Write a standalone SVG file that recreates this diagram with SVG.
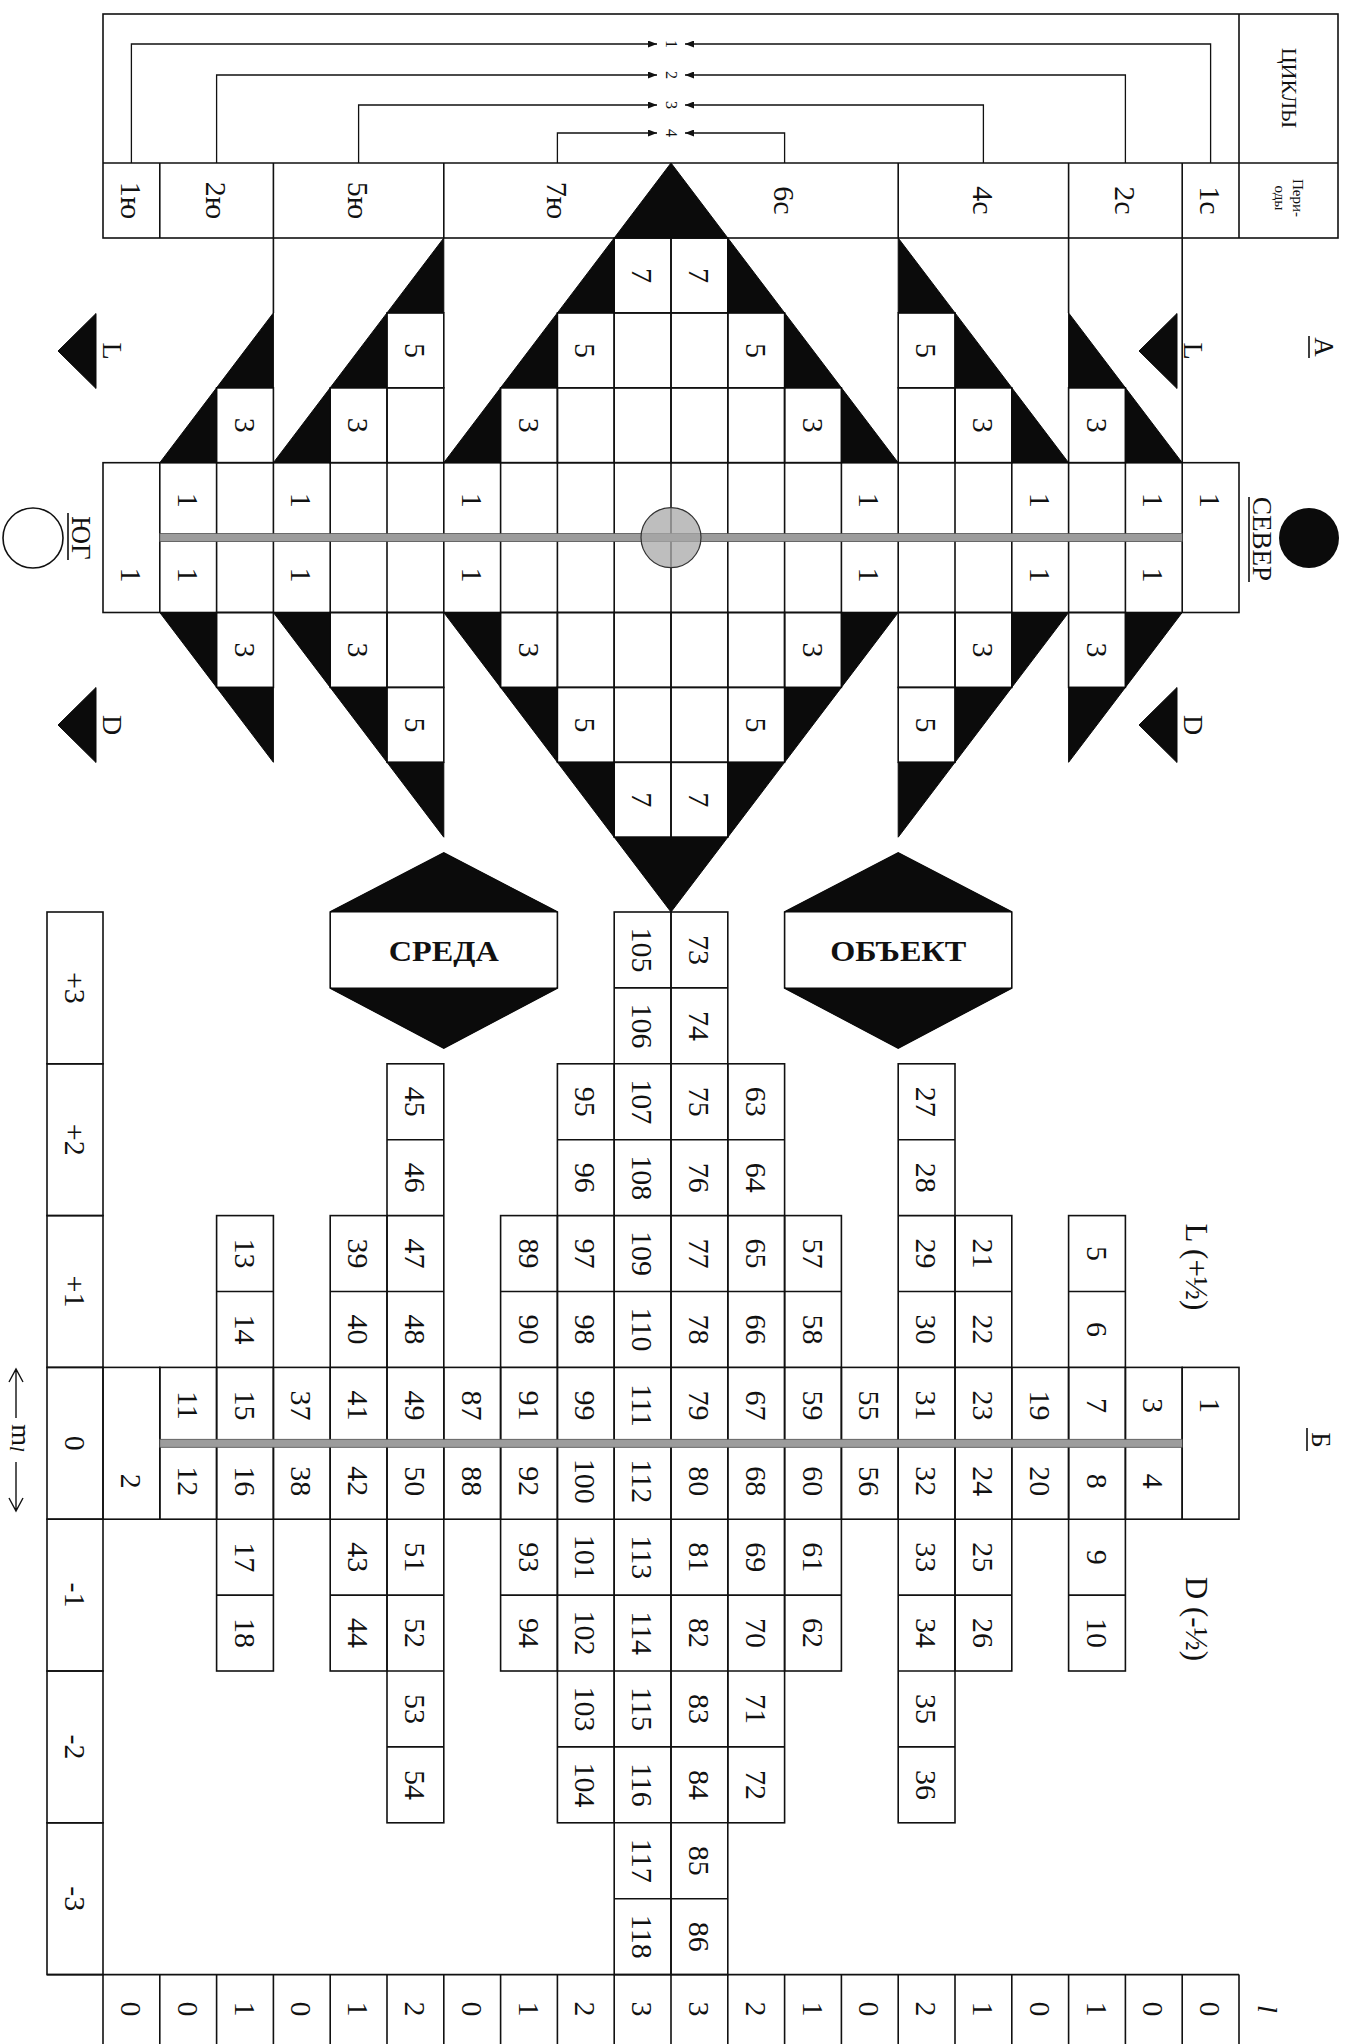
<svg xmlns="http://www.w3.org/2000/svg" xmlns:xlink="http://www.w3.org/1999/xlink" width="1351" height="2044" viewBox="0 0 1351 2044">
<defs>
<style>
.g{fill:none;stroke:#111;stroke-width:1.6}
.b{fill:#0b0b0b;stroke:#0b0b0b;stroke-width:1}
.cy{fill:none;stroke:#111;stroke-width:1.3}
.bar{fill:#9c9c9c;stroke:#505050;stroke-width:0.8}
.t{font-family:"Liberation Serif","Times New Roman",serif;font-size:30px;fill:#111;text-anchor:middle;dominant-baseline:central}
.f15{font-size:15px}
.f16{font-size:16px}
.f20{font-size:20px}
.f22{font-size:22px}
.f27{font-size:27px}
.f28{font-size:28px}
.f31{font-size:31px}
.bd{font-weight:bold}
.it{font-style:italic}
</style>
<marker id="ah" markerWidth="9" markerHeight="7" refX="9" refY="3.5" orient="auto" markerUnits="userSpaceOnUse"><path d="M0,0 L9,3.5 L0,7 z" fill="#111" stroke="none"/></marker>
<rect id="dc" width="56.8" height="74.9" class="g"/>
<g id="l0"><rect x="0" y="1367.4" width="56.8" height="151.8" class="g"/></g>
<g id="l1"><rect x="0" y="1215.6" width="56.8" height="455.4" class="g"/><path class="g" d="M0 1291.5h56.8M0 1367.4h56.8M0 1443.3h56.8M0 1519.2h56.8M0 1595.1h56.8"/></g>
<g id="l2"><rect x="0" y="1063.8" width="56.8" height="759" class="g"/><path class="g" d="M0 1139.7h56.8M0 1215.6h56.8M0 1291.5h56.8M0 1367.4h56.8M0 1443.3h56.8M0 1519.2h56.8M0 1595.1h56.8M0 1671h56.8M0 1746.9h56.8"/></g>
<g id="l3"><rect x="0" y="912" width="56.8" height="1062.6" class="g"/><path class="g" d="M0 987.9h56.8M0 1063.8h56.8M0 1139.7h56.8M0 1215.6h56.8M0 1291.5h56.8M0 1367.4h56.8M0 1443.3h56.8M0 1519.2h56.8M0 1595.1h56.8M0 1671h56.8M0 1746.9h56.8M0 1822.8h56.8M0 1898.7h56.8"/></g>
</defs>
<rect width="1351" height="2044" fill="#fff"/>

<g id="frame-top">
<rect x="103" y="14" width="1235" height="224" class="g"/>
<path class="g" d="M103 163H1338M1239 14V238M159.8 163V238M273.4 163V238M443.8 163V238M898.2 163V238M1068.6 163V238M1182.2 163V238"/>
</g>

<g id="connectors" class="cy">
<path d="M131.4 163V44H657" marker-end="url(#ah)"/>
<path d="M1210.6 163V44H685" marker-end="url(#ah)"/>
<path d="M216.6 163V75H657" marker-end="url(#ah)"/>
<path d="M1125.4 163V75H685" marker-end="url(#ah)"/>
<path d="M358.6 163V105H657" marker-end="url(#ah)"/>
<path d="M983.4 163V105H685" marker-end="url(#ah)"/>
<path d="M557.4 163V133H657" marker-end="url(#ah)"/>
<path d="M784.6 163V133H685" marker-end="url(#ah)"/>
</g>

<g id="diamond">
<use href="#dc" x="216.6" y="387.8"/><use href="#dc" x="330.2" y="387.8"/><use href="#dc" x="387" y="387.8"/>
<use href="#dc" x="500.6" y="387.8"/><use href="#dc" x="557.4" y="387.8"/><use href="#dc" x="614.2" y="387.8"/>
<use href="#dc" x="671" y="387.8"/><use href="#dc" x="727.8" y="387.8"/><use href="#dc" x="784.6" y="387.8"/>
<use href="#dc" x="898.2" y="387.8"/><use href="#dc" x="955" y="387.8"/><use href="#dc" x="1068.6" y="387.8"/>
<use href="#dc" x="387" y="312.9"/><use href="#dc" x="557.4" y="312.9"/><use href="#dc" x="614.2" y="312.9"/>
<use href="#dc" x="671" y="312.9"/><use href="#dc" x="727.8" y="312.9"/><use href="#dc" x="898.2" y="312.9"/>
<use href="#dc" x="614.2" y="238"/><use href="#dc" x="671" y="238"/>
<use href="#dc" x="216.6" y="612.5"/><use href="#dc" x="330.2" y="612.5"/><use href="#dc" x="387" y="612.5"/>
<use href="#dc" x="500.6" y="612.5"/><use href="#dc" x="557.4" y="612.5"/><use href="#dc" x="614.2" y="612.5"/>
<use href="#dc" x="671" y="612.5"/><use href="#dc" x="727.8" y="612.5"/><use href="#dc" x="784.6" y="612.5"/>
<use href="#dc" x="898.2" y="612.5"/><use href="#dc" x="955" y="612.5"/><use href="#dc" x="1068.6" y="612.5"/>
<use href="#dc" x="387" y="687.4"/><use href="#dc" x="557.4" y="687.4"/><use href="#dc" x="614.2" y="687.4"/>
<use href="#dc" x="671" y="687.4"/><use href="#dc" x="727.8" y="687.4"/><use href="#dc" x="898.2" y="687.4"/>
<use href="#dc" x="614.2" y="762.3"/><use href="#dc" x="671" y="762.3"/>
<rect x="103" y="462.7" width="1136" height="149.8" class="g"/>
<path class="g" d="M159.8 462.7V612.5M216.6 462.7V612.5M273.4 462.7V612.5M330.2 462.7V612.5M387 462.7V612.5M443.8 462.7V612.5M500.6 462.7V612.5M557.4 462.7V612.5M614.2 462.7V612.5M671 462.7V612.5M727.8 462.7V612.5M784.6 462.7V612.5M841.4 462.7V612.5M898.2 462.7V612.5M955 462.7V612.5M1011.8 462.7V612.5M1068.6 462.7V612.5M1125.4 462.7V612.5M1182.2 462.7V612.5"/>
<path class="g" d="M273.4 238V312.9M1068.6 238V312.9M1182.2 238V462.7"/>
<path class="b" d="M671 163L727.8 238L614.2 238Z
M159.8 462.7L216.6 462.7L216.6 387.8Z M216.6 387.8L273.4 387.8L273.4 312.9Z
M273.4 462.7L330.2 462.7L330.2 387.8Z M330.2 387.8L387 387.8L387 312.9Z M387 312.9L443.8 312.9L443.8 238Z
M443.8 462.7L500.6 462.7L500.6 387.8Z M500.6 387.8L557.4 387.8L557.4 312.9Z M557.4 312.9L614.2 312.9L614.2 238Z
M841.4 387.8L841.4 462.7L898.2 462.7Z M784.6 312.9L784.6 387.8L841.4 387.8Z M727.8 238L727.8 312.9L784.6 312.9Z
M1011.8 387.8L1011.8 462.7L1068.6 462.7Z M955 312.9L955 387.8L1011.8 387.8Z M898.2 238L898.2 312.9L955 312.9Z
M1125.4 387.8L1125.4 462.7L1182.2 462.7Z M1068.6 312.9L1068.6 387.8L1125.4 387.8Z
M159.8 612.5L216.6 612.5L216.6 687.4Z M216.6 687.4L273.4 687.4L273.4 762.3Z
M273.4 612.5L330.2 612.5L330.2 687.4Z M330.2 687.4L387 687.4L387 762.3Z M387 762.3L443.8 762.3L443.8 837.2Z
M443.8 612.5L500.6 612.5L500.6 687.4Z M500.6 687.4L557.4 687.4L557.4 762.3Z M557.4 762.3L614.2 762.3L614.2 837.2Z
M614.2 837.2L727.8 837.2L671 912Z
M841.4 612.5L898.2 612.5L841.4 687.4Z M784.6 687.4L841.4 687.4L784.6 762.3Z M727.8 762.3L784.6 762.3L727.8 837.2Z
M1011.8 612.5L1068.6 612.5L1011.8 687.4Z M955 687.4L1011.8 687.4L955 762.3Z M898.2 762.3L955 762.3L898.2 837.2Z
M1125.4 612.5L1182.2 612.5L1125.4 687.4Z M1068.6 687.4L1125.4 687.4L1068.6 762.3Z"/>
<rect x="159.8" y="533.6" width="1022.4" height="8" class="bar"/>
<circle cx="671" cy="537.6" r="30" fill="#a8a8a8" fill-opacity="0.75" stroke="#333" stroke-width="1.2"/>
</g>

<g id="markers-LD">
<path class="b" d="M58 351L96 313.5L96 388.5Z M1139 351L1177 313.5L1177 388.5Z M58 725L96 687.5L96 762.5Z M1139 725L1177 687.5L1177 762.5Z"/>
<circle cx="33" cy="538" r="30" fill="none" stroke="#111" stroke-width="1.6"/>
<circle cx="1309" cy="538" r="30" fill="#0b0b0b"/>
<path class="g" d="M68 513V560M1249 497V582M1309 336V358M1307 1428V1451"/>
</g>

<g id="hex-sreda">
<polygon points="330.2,912 443.8,853 557.4,912 557.4,988 443.8,1048 330.2,988" fill="#fff" class="g"/>
<path class="b" d="M330.2 912L443.8 853L557.4 912Z M330.2 988L557.4 988L443.8 1048Z"/>
<text class="t bd" x="443.8" y="950" textLength="110" lengthAdjust="spacingAndGlyphs">СРЕДА</text>
</g>
<g id="hex-obekt">
<polygon points="784.6,912 898.2,853 1011.8,912 1011.8,988 898.2,1048 784.6,988" fill="#fff" class="g"/>
<path class="b" d="M784.6 912L898.2 853L1011.8 912Z M784.6 988L1011.8 988L898.2 1048Z"/>
<text class="t bd" x="898.2" y="950" textLength="136" lengthAdjust="spacingAndGlyphs">ОБЪЕКТ</text>
</g>

<g id="table">
<rect x="47" y="912" width="56" height="151.8" class="g"/>
<rect x="47" y="1063.8" width="56" height="151.8" class="g"/>
<rect x="47" y="1215.6" width="56" height="151.8" class="g"/>
<rect x="47" y="1367.4" width="56" height="151.8" class="g"/>
<rect x="47" y="1519.2" width="56" height="151.8" class="g"/>
<rect x="47" y="1671" width="56" height="151.8" class="g"/>
<rect x="47" y="1822.8" width="56" height="151.8" class="g"/>
<use href="#l0" x="103"/><use href="#l0" x="1182.2"/>
<use href="#l0" x="159.8"/><use href="#l0" x="273.4"/><use href="#l0" x="443.8"/><use href="#l0" x="841.4"/><use href="#l0" x="1011.8"/><use href="#l0" x="1125.4"/>
<use href="#l1" x="216.6"/><use href="#l1" x="330.2"/><use href="#l1" x="500.6"/><use href="#l1" x="784.6"/><use href="#l1" x="955"/><use href="#l1" x="1068.6"/>
<use href="#l2" x="387"/><use href="#l2" x="557.4"/><use href="#l2" x="727.8"/><use href="#l2" x="898.2"/>
<use href="#l3" x="614.2"/><use href="#l3" x="671"/>
<rect x="159.8" y="1439.3" width="1022.4" height="8" class="bar"/>
<path class="g" d="M47 1974.6H1239M103 1974.6V2044M159.8 1974.6V2044M216.6 1974.6V2044M273.4 1974.6V2044M330.2 1974.6V2044M387 1974.6V2044M443.8 1974.6V2044M500.6 1974.6V2044M557.4 1974.6V2044M614.2 1974.6V2044M671 1974.6V2044M727.8 1974.6V2044M784.6 1974.6V2044M841.4 1974.6V2044M898.2 1974.6V2044M955 1974.6V2044M1011.8 1974.6V2044M1068.6 1974.6V2044M1125.4 1974.6V2044M1182.2 1974.6V2044M1239 1974.6V2044"/>
<path fill="none" stroke="#111" stroke-width="1.4" d="M16 1369V1418M9 1382L16 1369L23 1382M16 1462V1511M9 1498L16 1511L23 1498"/>
</g>

<g id="texts" class="t" transform="rotate(90)">
<text x="200.5" y="-131.4">1ю</text><text x="200.5" y="-216.6">2ю</text><text x="200.5" y="-358.6">5ю</text><text x="200.5" y="-557.4">7ю</text>
<text x="200.5" y="-784.6">6с</text><text x="200.5" y="-983.4">4с</text><text x="200.5" y="-1125.4">2с</text><text x="200.5" y="-1210.6">1с</text>
<text class="f16" x="44" y="-671">1</text><text class="f16" x="75" y="-671">2</text><text class="f16" x="105" y="-671">3</text><text class="f16" x="133" y="-671">4</text>
<text class="f22" x="88" y="-1289">ЦИКЛЫ</text>
<text class="f15" x="198" y="-1298">Пери-</text><text class="f15" x="198" y="-1280">оды</text>

<text x="425.3" y="-245">3</text><text x="425.3" y="-358.6">3</text><text x="425.3" y="-529">3</text><text x="425.3" y="-813">3</text><text x="425.3" y="-983.4">3</text><text x="425.3" y="-1097">3</text>
<text x="350.4" y="-415.4">5</text><text x="350.4" y="-585.8">5</text><text x="350.4" y="-756.2">5</text><text x="350.4" y="-926.6">5</text>
<text x="275.5" y="-642.6">7</text><text x="275.5" y="-699.4">7</text>
<text x="500.2" y="-188.2">1</text><text x="500.2" y="-301.8">1</text><text x="500.2" y="-472.2">1</text><text x="500.2" y="-869.8">1</text><text x="500.2" y="-1040.2">1</text><text x="500.2" y="-1153.8">1</text><text x="500.2" y="-1210.6">1</text>
<text x="575.1" y="-131.4">1</text><text x="575.1" y="-188.2">1</text><text x="575.1" y="-301.8">1</text><text x="575.1" y="-472.2">1</text><text x="575.1" y="-869.8">1</text><text x="575.1" y="-1040.2">1</text><text x="575.1" y="-1153.8">1</text>
<text x="650" y="-245">3</text><text x="650" y="-358.6">3</text><text x="650" y="-529">3</text><text x="650" y="-813">3</text><text x="650" y="-983.4">3</text><text x="650" y="-1097">3</text>
<text x="724.9" y="-415.4">5</text><text x="724.9" y="-585.8">5</text><text x="724.9" y="-756.2">5</text><text x="724.9" y="-926.6">5</text>
<text x="799.8" y="-642.6">7</text><text x="799.8" y="-699.4">7</text>

<text class="f28" x="351" y="-112">L</text><text class="f28" x="351" y="-1193">L</text>
<text class="f28" x="725" y="-112">D</text><text class="f28" x="725" y="-1193">D</text>
<text class="f27" x="538" y="-81">ЮГ</text><text class="f27" x="539" y="-1262">СЕВЕР</text>
<text class="f27" x="347" y="-1324">А</text><text class="f27" x="1440" y="-1321">Б</text>

<text x="1481.3" y="-131.4">2</text>
<text x="1405.4" y="-188.2">11</text><text x="1481.3" y="-188.2">12</text>
<text x="1253.6" y="-245">13</text><text x="1329.5" y="-245">14</text><text x="1405.4" y="-245">15</text><text x="1481.3" y="-245">16</text><text x="1557.2" y="-245">17</text><text x="1633.1" y="-245">18</text>
<text x="1405.4" y="-301.8">37</text><text x="1481.3" y="-301.8">38</text>
<text x="1253.6" y="-358.6">39</text><text x="1329.5" y="-358.6">40</text><text x="1405.4" y="-358.6">41</text><text x="1481.3" y="-358.6">42</text><text x="1557.2" y="-358.6">43</text><text x="1633.1" y="-358.6">44</text>
<text x="1101.8" y="-415.4">45</text><text x="1177.7" y="-415.4">46</text><text x="1253.6" y="-415.4">47</text><text x="1329.5" y="-415.4">48</text><text x="1405.4" y="-415.4">49</text><text x="1481.3" y="-415.4">50</text><text x="1557.2" y="-415.4">51</text><text x="1633.1" y="-415.4">52</text><text x="1709" y="-415.4">53</text><text x="1784.9" y="-415.4">54</text>
<text x="1405.4" y="-472.2">87</text><text x="1481.3" y="-472.2">88</text>
<text x="1253.6" y="-529">89</text><text x="1329.5" y="-529">90</text><text x="1405.4" y="-529">91</text><text x="1481.3" y="-529">92</text><text x="1557.2" y="-529">93</text><text x="1633.1" y="-529">94</text>
<text x="1101.8" y="-585.8">95</text><text x="1177.7" y="-585.8">96</text><text x="1253.6" y="-585.8">97</text><text x="1329.5" y="-585.8">98</text><text x="1405.4" y="-585.8">99</text><text x="1481.3" y="-585.8">100</text><text x="1557.2" y="-585.8">101</text><text x="1633.1" y="-585.8">102</text><text x="1709" y="-585.8">103</text><text x="1784.9" y="-585.8">104</text>
<text x="950" y="-642.6">105</text><text x="1025.9" y="-642.6">106</text><text x="1101.8" y="-642.6">107</text><text x="1177.7" y="-642.6">108</text><text x="1253.6" y="-642.6">109</text><text x="1329.5" y="-642.6">110</text><text x="1405.4" y="-642.6">111</text><text x="1481.3" y="-642.6">112</text><text x="1557.2" y="-642.6">113</text><text x="1633.1" y="-642.6">114</text><text x="1709" y="-642.6">115</text><text x="1784.9" y="-642.6">116</text><text x="1860.8" y="-642.6">117</text><text x="1936.7" y="-642.6">118</text>
<text x="950" y="-699.4">73</text><text x="1025.9" y="-699.4">74</text><text x="1101.8" y="-699.4">75</text><text x="1177.7" y="-699.4">76</text><text x="1253.6" y="-699.4">77</text><text x="1329.5" y="-699.4">78</text><text x="1405.4" y="-699.4">79</text><text x="1481.3" y="-699.4">80</text><text x="1557.2" y="-699.4">81</text><text x="1633.1" y="-699.4">82</text><text x="1709" y="-699.4">83</text><text x="1784.9" y="-699.4">84</text><text x="1860.8" y="-699.4">85</text><text x="1936.7" y="-699.4">86</text>
<text x="1101.8" y="-756.2">63</text><text x="1177.7" y="-756.2">64</text><text x="1253.6" y="-756.2">65</text><text x="1329.5" y="-756.2">66</text><text x="1405.4" y="-756.2">67</text><text x="1481.3" y="-756.2">68</text><text x="1557.2" y="-756.2">69</text><text x="1633.1" y="-756.2">70</text><text x="1709" y="-756.2">71</text><text x="1784.9" y="-756.2">72</text>
<text x="1253.6" y="-813">57</text><text x="1329.5" y="-813">58</text><text x="1405.4" y="-813">59</text><text x="1481.3" y="-813">60</text><text x="1557.2" y="-813">61</text><text x="1633.1" y="-813">62</text>
<text x="1405.4" y="-869.8">55</text><text x="1481.3" y="-869.8">56</text>
<text x="1101.8" y="-926.6">27</text><text x="1177.7" y="-926.6">28</text><text x="1253.6" y="-926.6">29</text><text x="1329.5" y="-926.6">30</text><text x="1405.4" y="-926.6">31</text><text x="1481.3" y="-926.6">32</text><text x="1557.2" y="-926.6">33</text><text x="1633.1" y="-926.6">34</text><text x="1709" y="-926.6">35</text><text x="1784.9" y="-926.6">36</text>
<text x="1253.6" y="-983.4">21</text><text x="1329.5" y="-983.4">22</text><text x="1405.4" y="-983.4">23</text><text x="1481.3" y="-983.4">24</text><text x="1557.2" y="-983.4">25</text><text x="1633.1" y="-983.4">26</text>
<text x="1405.4" y="-1040.2">19</text><text x="1481.3" y="-1040.2">20</text>
<text x="1253.6" y="-1097">5</text><text x="1329.5" y="-1097">6</text><text x="1405.4" y="-1097">7</text><text x="1481.3" y="-1097">8</text><text x="1557.2" y="-1097">9</text><text x="1633.1" y="-1097">10</text>
<text x="1405.4" y="-1153.8">3</text><text x="1481.3" y="-1153.8">4</text>
<text x="1405.4" y="-1210.6">1</text>

<text x="987.9" y="-75">+3</text><text x="1139.7" y="-75">+2</text><text x="1291.5" y="-75">+1</text><text x="1443.3" y="-75">0</text><text x="1595.1" y="-75">-1</text><text x="1746.9" y="-75">-2</text><text x="1898.7" y="-75">-3</text>

<text x="2009" y="-131.4">0</text><text x="2009" y="-188.2">0</text><text x="2009" y="-245">1</text><text x="2009" y="-301.8">0</text><text x="2009" y="-358.6">1</text><text x="2009" y="-415.4">2</text><text x="2009" y="-472.2">0</text><text x="2009" y="-529">1</text><text x="2009" y="-585.8">2</text><text x="2009" y="-642.6">3</text>
<text x="2009" y="-699.4">3</text><text x="2009" y="-756.2">2</text><text x="2009" y="-813">1</text><text x="2009" y="-869.8">0</text><text x="2009" y="-926.6">2</text><text x="2009" y="-983.4">1</text><text x="2009" y="-1040.2">0</text><text x="2009" y="-1097">1</text><text x="2009" y="-1153.8">0</text><text x="2009" y="-1210.6">0</text>
<text class="f28 it" x="2009" y="-1267">l</text>

<text class="f31" x="1267" y="-1196">L (+½)</text>
<text class="f31" x="1619" y="-1196">D (-½)</text>
<text class="f28" x="1438" y="-21">m<tspan class="f20 it" dy="4">l</tspan></text>
</g>
</svg>
